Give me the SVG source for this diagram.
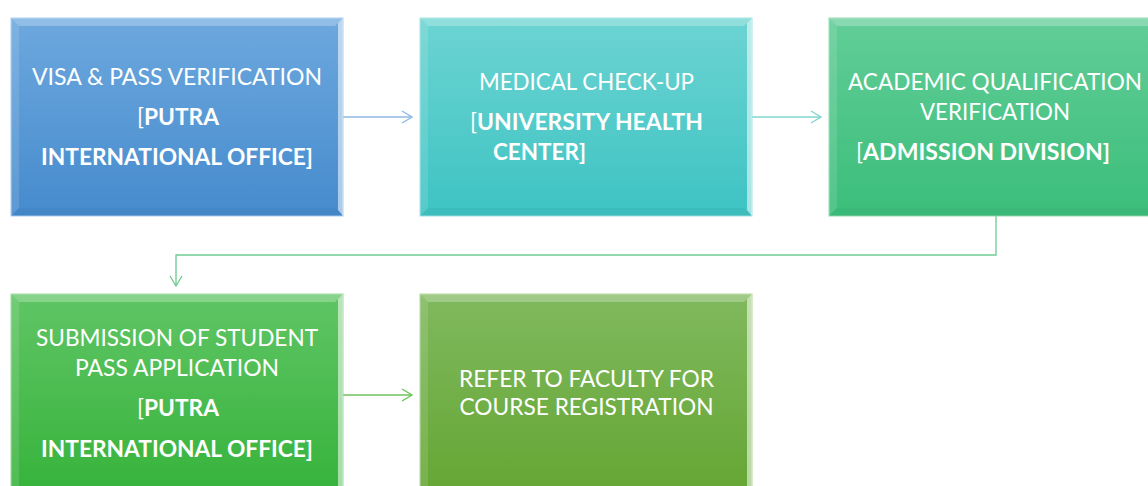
<svg xmlns="http://www.w3.org/2000/svg" width="1148" height="486" viewBox="0 0 1148 486">
<defs>
<linearGradient id="g1" x1="0" y1="0" x2="0" y2="1"><stop offset="0" stop-color="#6da8de"/><stop offset="1" stop-color="#468bcd"/></linearGradient>
<linearGradient id="g2" x1="0" y1="0" x2="0" y2="1"><stop offset="0" stop-color="#6cd4d2"/><stop offset="1" stop-color="#3ec3c3"/></linearGradient>
<linearGradient id="g3" x1="0" y1="0" x2="0" y2="1"><stop offset="0" stop-color="#62cd98"/><stop offset="1" stop-color="#3bbe7a"/></linearGradient>
<linearGradient id="g4" x1="0" y1="0" x2="0" y2="1"><stop offset="0" stop-color="#60c565"/><stop offset="1" stop-color="#36b33b"/></linearGradient>
<linearGradient id="g5" x1="0" y1="0" x2="0" y2="1"><stop offset="0" stop-color="#80b95e"/><stop offset="1" stop-color="#65a634"/></linearGradient>
<marker id="ab" viewBox="0 0 12 14" markerWidth="12" markerHeight="14" refX="11" refY="7" orient="auto" markerUnits="userSpaceOnUse"><path d="M1,1 L11,7 L1,13" fill="none" stroke="context-stroke" stroke-width="1.3"/></marker>
</defs>
<style>
.t{font-family:Lato,"Open Sans","Liberation Sans",sans-serif;font-size:23px;fill:#ffffff;text-anchor:middle}
.b{font-weight:bold}
.n{font-weight:normal}
.hl{fill:#ffffff}
.c{fill:none;stroke-width:1.3}
</style>
<g id="connectors">
<path class="c" d="M343,117 H412" stroke="#8fb8e2" marker-end="url(#ab)"/>
<path class="c" d="M752,117 H821" stroke="#80d6cf" marker-end="url(#ab)"/>
<path class="c" d="M996,216 V255 H176 V286" stroke="#6fca92" marker-end="url(#ab)"/>
<path class="c" d="M343,395 H412" stroke="#6ec35e" marker-end="url(#ab)"/>
</g>
<g id="node1">
<rect x="11" y="18" width="332" height="198" fill="url(#g1)" stroke="#a9cdef" stroke-width="1"/>
<polygon class="hl" points="11,18 343,18 335,26 19,26" opacity="0.25"/>
<polygon class="hl" points="11,18 19,26 19,208 11,216" opacity="0.12"/>
<polygon class="hl" points="343,18 343,216 338,210 338,23" opacity="0.55"/>
<polygon points="11,216 343,216 335,208 19,208" fill="#000" opacity="0.03"/>
<text class="t n" x="177" y="85" textLength="290" lengthAdjust="spacingAndGlyphs">VISA &amp; PASS VERIFICATION</text>
<text class="t" x="178" y="125" textLength="82" lengthAdjust="spacingAndGlyphs"><tspan class="n">[</tspan><tspan class="b">PUTRA</tspan></text>
<text class="t b" x="177" y="165" textLength="272" lengthAdjust="spacingAndGlyphs">INTERNATIONAL OFFICE]</text>
</g>
<g id="node2">
<rect x="420" y="18" width="332" height="198" fill="url(#g2)" stroke="#9fe3e3" stroke-width="1"/>
<polygon class="hl" points="420,18 752,18 744,26 428,26" opacity="0.25"/>
<polygon class="hl" points="420,18 428,26 428,208 420,216" opacity="0.12"/>
<polygon class="hl" points="752,18 752,216 747,210 747,23" opacity="0.55"/>
<polygon points="420,216 752,216 744,208 428,208" fill="#000" opacity="0.03"/>
<text class="t n" x="586.5" y="90" textLength="215" lengthAdjust="spacingAndGlyphs">MEDICAL CHECK-UP</text>
<text class="t" x="586.5" y="130" textLength="233" lengthAdjust="spacingAndGlyphs"><tspan class="n">[</tspan><tspan class="b">UNIVERSITY HEALTH</tspan></text>
<text class="t b" x="539.5" y="160" textLength="93" lengthAdjust="spacingAndGlyphs">CENTER]</text>
</g>
<g id="node3">
<rect x="829" y="18" width="330" height="198" fill="url(#g3)" stroke="#95dcb5" stroke-width="1"/>
<polygon class="hl" points="829,18 1159,18 1151,26 837,26" opacity="0.25"/>
<polygon class="hl" points="829,18 837,26 837,208 829,216" opacity="0.12"/>
<polygon points="829,216 1159,216 1151,208 837,208" fill="#000" opacity="0.03"/>
<text class="t n" x="995" y="90" textLength="294" lengthAdjust="spacingAndGlyphs">ACADEMIC QUALIFICATION</text>
<text class="t n" x="995" y="120" textLength="150" lengthAdjust="spacingAndGlyphs">VERIFICATION</text>
<text class="t" x="983" y="160" textLength="254" lengthAdjust="spacingAndGlyphs"><tspan class="n">[</tspan><tspan class="b">ADMISSION DIVISION]</tspan></text>
</g>
<g id="node4">
<rect x="11" y="294" width="332" height="200" fill="url(#g4)" stroke="#9ad99c" stroke-width="1"/>
<polygon class="hl" points="11,294 343,294 335,302 19,302" opacity="0.25"/>
<polygon class="hl" points="11,294 19,302 19,494 11,494" opacity="0.12"/>
<polygon class="hl" points="343,294 343,494 338,494 338,299" opacity="0.55"/>
<text class="t n" x="177" y="346" textLength="282" lengthAdjust="spacingAndGlyphs">SUBMISSION OF STUDENT</text>
<text class="t n" x="177" y="376" textLength="204" lengthAdjust="spacingAndGlyphs">PASS APPLICATION</text>
<text class="t" x="178" y="416" textLength="82" lengthAdjust="spacingAndGlyphs"><tspan class="n">[</tspan><tspan class="b">PUTRA</tspan></text>
<text class="t b" x="177" y="457" textLength="272" lengthAdjust="spacingAndGlyphs">INTERNATIONAL OFFICE]</text>
</g>
<g id="node5">
<rect x="420" y="294" width="332" height="200" fill="url(#g5)" stroke="#b3d89c" stroke-width="1"/>
<polygon class="hl" points="420,294 752,294 744,302 428,302" opacity="0.25"/>
<polygon class="hl" points="420,294 428,302 428,494 420,494" opacity="0.12"/>
<polygon class="hl" points="752,294 752,494 747,494 747,299" opacity="0.55"/>
<text class="t n" x="586.5" y="387" textLength="255" lengthAdjust="spacingAndGlyphs">REFER TO FACULTY FOR</text>
<text class="t n" x="586.5" y="415" textLength="254" lengthAdjust="spacingAndGlyphs">COURSE REGISTRATION</text>
</g>
</svg>
